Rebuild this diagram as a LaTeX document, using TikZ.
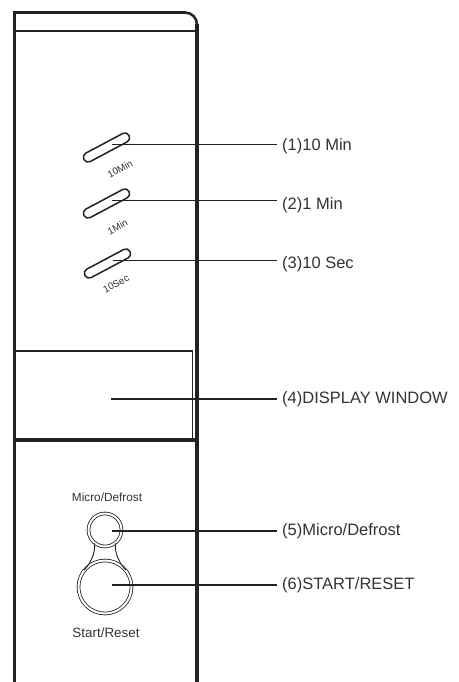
\documentclass[tikz,border=0pt]{standalone}
\usepackage{fontspec}
\setmainfont{Liberation Sans}
\usetikzlibrary{calc}
\definecolor{ink}{HTML}{222222}
\definecolor{txt}{HTML}{333333}
\begin{document}
\begin{tikzpicture}[x=1pt,y=-1pt,
  edge/.style={draw=ink,line width=3.2pt},
  thinedge/.style={draw=ink,line width=1.8pt},
  leader/.style={draw=ink,line width=1.1pt},
  lbl/.style={anchor=west,inner xsep=5pt,inner ysep=0pt,text=txt,font=\fontsize{16.5}{18}\selectfont},
  slot/.style={draw=ink,line width=1.5pt,rounded corners=4.5pt,minimum width=51pt,minimum height=9.5pt,inner sep=0pt,rotate=28},
  slotlbl/.style={text=txt,font=\fontsize{9.8}{10}\selectfont,rotate=28,inner sep=0pt},
  btn/.style={circle,draw=ink,double=white,double distance=2pt,line width=0.8pt,inner sep=0pt},
  btnlbl/.style={text=txt,inner sep=0pt}]
\useasboundingbox (0,0) rectangle (458,682);
% housing
\draw[edge] (14.5,682) -- (14.5,12);
\draw[draw=ink,line width=2.6pt] (13,12.5) -- (185,12.5) arc[start angle=90,end angle=0,radius=12pt] -- (197,682);
\draw[draw=ink,line width=4pt] (197,24) -- (197,682);
\draw[thinedge] (14,31) -- (197,31);
% display window
\draw[thinedge] (14,351) -- (193,351);
\draw[draw=ink,line width=1pt] (192.5,351) -- (192.5,440);
\draw[edge] (14,440) -- (197,440);
\coordinate (dw) at (111,399);
% knobs
\node[slot] (k1) at (106.5,147.5) {};
\node[slot] (k2) at (106.5,203.5) {};
\node[slot] (k3) at (107.5,263.5) {};
\node[slotlbl] (t1) at (120,169) {10Min};
\node[slotlbl] (t2) at (117.5,227) {1Min};
\node[slotlbl] (t3) at (116,284) {10Sec};
\coordinate (p1) at ($(k1.center)!0.22!(k1.east)$);
\coordinate (p2) at ($(k2.center)!0.22!(k2.east)$);
\coordinate (p3) at ($(k3.center)!0.22!(k3.east)$);
% buttons
\node[btn,minimum size=33pt] (sm) at (105,530) {};
\node[btn,minimum size=53pt] (bg) at (105,587) {};
\draw[draw=ink,line width=0.9pt] (sm.232) .. controls +(1,10) and +(6,-6) .. (bg.141);
\draw[draw=ink,line width=0.9pt] (sm.-52) .. controls +(-1,10) and +(-6,-6) .. (bg.39);
\node[btnlbl,font=\fontsize{11.8}{13}\selectfont] (mdt) at (107,497) {Micro/Defrost};
\node[btnlbl,font=\fontsize{13.4}{14}\selectfont] (srt) at (106,633) {Start/Reset};
\coordinate (p5) at (112,531);
\coordinate (p6) at (112,585);
% labels
\node[lbl] (l1) at (277,146) {(1)10 Min};
\node[lbl] (l2) at (277,205) {(2)1 Min};
\node[lbl] (l3) at (277,264) {(3)10 Sec};
\node[lbl] (l4) at (277,399) {(4)DISPLAY WINDOW};
\node[lbl] (l5) at (277,531) {(5)Micro/Defrost};
\node[lbl] (l6) at (277,585) {(6)START/RESET};
% leaders
\draw[leader] (p1) -- (p1 -| l1.west);
\draw[leader] (p2) -- (p2 -| l2.west);
\draw[leader] (p3) -- (p3 -| l3.west);
\draw[leader] (dw) -- (dw -| l4.west);
\draw[leader] (p5) -- (p5 -| l5.west);
\draw[leader] (p6) -- (p6 -| l6.west);
\end{tikzpicture}
\end{document}
